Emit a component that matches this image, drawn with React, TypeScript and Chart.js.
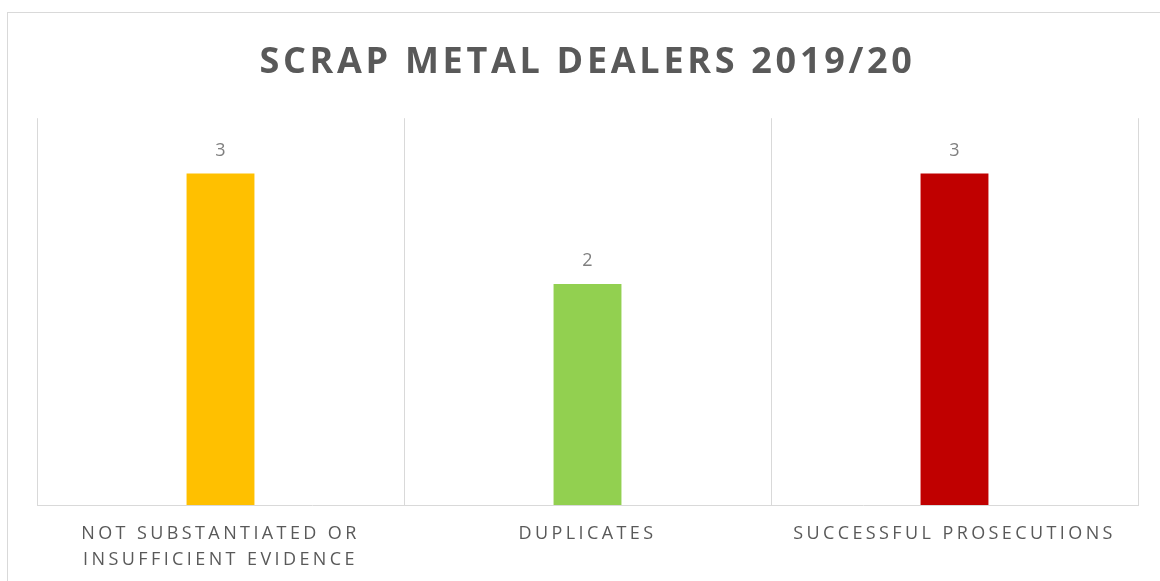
import React, { useEffect, useRef } from "react";
import { Chart, registerables } from "chart.js";

Chart.register(...registerables);

const titleText = "SCRAP METAL DEALERS 2019/20";
const categories: (string | string[])[] = [
  ["NOT SUBSTANTIATED OR", "INSUFFICIENT EVIDENCE"],
  "DUPLICATES",
  "SUCCESSFUL PROSECUTIONS",
];
const values = [3, 2, 3];
const barColors = ["#FFC000", "#92D050", "#C00000"];
const yMin = 0;
const yMax = 3.5;

const spacingPlugin = {
  id: "spacingAndLabels",
  beforeDraw(chart: any) {
    chart.ctx.letterSpacing = "3.7px";
  },
  afterDatasetsDraw(chart: any) {
    const ctx = chart.ctx;
    ctx.save();
    ctx.letterSpacing = "0px";
    ctx.font = "18px 'Open Sans'";
    ctx.fillStyle = "#7F7F7F";
    ctx.textAlign = "center";
    ctx.textBaseline = "middle";
    const meta = chart.getDatasetMeta(0);
    meta.data.forEach((bar: any, i: number) => {
      ctx.fillText(String(values[i]), bar.x, bar.y - 23);
    });
    ctx.restore();
    ctx.letterSpacing = "3.4px";
  },
};

export default function App() {
  const ref = useRef<HTMLCanvasElement>(null);
  useEffect(() => {
    document.body.style.margin = "0";
    document.body.style.overflow = "hidden";
    const chart = new Chart(ref.current!, {
      type: "bar",
      data: {
        labels: categories,
        datasets: [
          {
            data: values,
            backgroundColor: barColors,
            barPercentage: 0.185,
            categoryPercentage: 1,
          },
        ],
      },
      options: {
        animation: false,
        responsive: false,
        layout: { padding: { left: 37, right: 22, top: 0, bottom: 0 } },
        plugins: {
          legend: { display: false },
          tooltip: { enabled: false },
          title: {
            display: true,
            text: titleText,
            color: "#595959",
            font: { family: "'Open Sans'", size: 36, weight: "bold", lineHeight: 1.2 },
            padding: { top: 41, bottom: 34 },
          },
        },
        scales: {
          x: {
            grid: { color: "#D9D9D9", offset: true, drawTicks: false, lineWidth: 1 },
            border: { color: "#D9D9D9", width: 1 },
            ticks: {
              color: "#595959",
              font: { family: "'Open Sans'", size: 18, lineHeight: "26px" },
              padding: 16,
              maxRotation: 0,
              minRotation: 0,
              autoSkip: false,
              z: 1,
            },
            afterFit: (scale: any) => {
              scale.height = 76;
            },
          },
          y: {
            display: false,
            min: yMin,
            max: yMax,
          },
        },
      },
      plugins: [spacingPlugin],
    });
    return () => chart.destroy();
  }, []);
  return (
    <div style={{ position: "fixed", left: 0, top: 0, width: 1160, height: 581, overflow: "hidden", background: "#fff" }}>
      <div
        style={{
          position: "absolute",
          left: 7,
          top: 12,
          width: 1200,
          height: 700,
          border: "1px solid #D9D9D9",
        }}
      />
      <canvas ref={ref} width={1160} height={581} style={{ position: "absolute", left: 0, top: 0 }} />
    </div>
  );
}
